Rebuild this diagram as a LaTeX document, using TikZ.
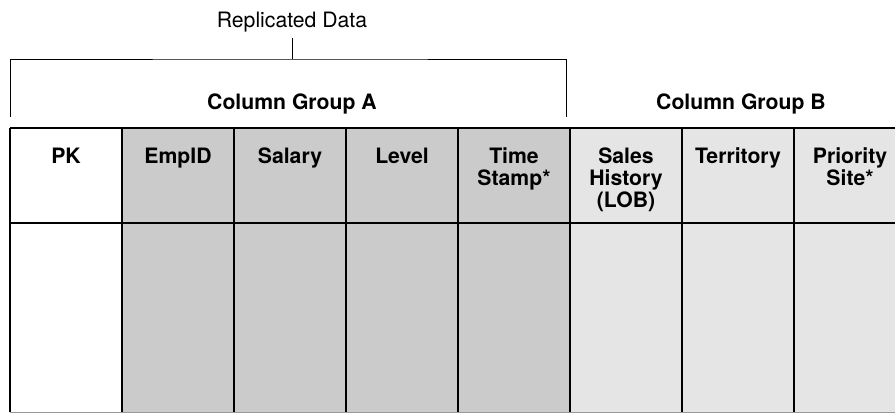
\documentclass[tikz,border=0pt]{standalone}
\usepackage{fontspec}
\setmainfont{TeX Gyre Heros}
\usepackage{tikz}
\usetikzlibrary{positioning}
\definecolor{GroupA}{HTML}{CBCBCB}
\definecolor{GroupB}{HTML}{E5E5E5}
\definecolor{EdgeGray}{HTML}{999999}

\begin{document}
\begin{tikzpicture}[x=1pt,y=-1pt,
    head/.style={minimum width=112pt,minimum height=95pt,inner sep=0pt,outer sep=0pt},
    body/.style={minimum width=112pt,minimum height=189pt,inner sep=0pt,outer sep=0pt},
    title/.style={font=\bfseries\fontsize{21.2}{21.7}\selectfont,align=center,inner sep=0pt},
    group/.style={font=\bfseries\fontsize{21.2}{21.7}\selectfont,anchor=base},
    bracket/.style={line width=1pt},
    rule/.style={line width=2pt}]
    \useasboundingbox (0,0) rectangle (895,413);
    % header row
    \node[head,fill=white] (hPK) at (66,175.5) {};
    \node[head,fill=GroupA,right=0pt of hPK] (hEmp) {};
    \node[head,fill=GroupA,right=0pt of hEmp] (hSal) {};
    \node[head,fill=GroupA,right=0pt of hSal] (hLvl) {};
    \node[head,fill=GroupA,right=0pt of hLvl] (hTime) {};
    \node[head,fill=GroupB,right=0pt of hTime] (hSales) {};
    \node[head,fill=GroupB,right=0pt of hSales] (hTerr) {};
    \node[head,fill=GroupB,right=0pt of hTerr] (hSite) {};
    % body row
    \node[body,fill=white,below=0pt of hPK] (bPK) {};
    \node[body,fill=GroupA,below=0pt of hEmp] (bEmp) {};
    \node[body,fill=GroupA,below=0pt of hSal] (bSal) {};
    \node[body,fill=GroupA,below=0pt of hLvl] (bLvl) {};
    \node[body,fill=GroupA,below=0pt of hTime] (bTime) {};
    \node[body,fill=GroupB,below=0pt of hSales] (bSales) {};
    \node[body,fill=GroupB,below=0pt of hTerr] (bTerr) {};
    \node[body,fill=GroupB,below=0pt of hSite] (bSite) {};
    % column titles
    \node[title,below=20pt of hPK.north] (tPK) {PK};
    \node[title,below=20pt of hEmp.north] (tEmp) {EmpID};
    \node[title,below=20pt of hSal.north] (tSal) {Salary};
    \node[title,below=20pt of hLvl.north] (tLvl) {Level};
    \node[title,below=20pt of hTime.north] (tTime) {Time\\Stamp*};
    \node[title,below=20pt of hSales.north] (tSales) {Sales\\History\\(LOB)};
    \node[title,below=20pt of hTerr.north] (tTerr) {Territory};
    \node[title,below=20pt of hSite.north] (tSite) {Priority\\Site*};
    % grid
    \draw[rule] (hPK.north west) -- (bPK.south west);
    \draw[rule] (hEmp.north west) -- (bEmp.south west);
    \draw[rule] (hSal.north west) -- (bSal.south west);
    \draw[rule] (hLvl.north west) -- (bLvl.south west);
    \draw[rule] (hTime.north west) -- (bTime.south west);
    \draw[rule] (hSales.north west) -- (bSales.south west);
    \draw[rule] (hTerr.north west) -- (bTerr.south west);
    \draw[rule] (hSite.north west) -- (bSite.south west);
    \draw[rule] (hPK.north west) -- (hSite.north east);
    \draw[rule] (hPK.south west) -- (hSite.south east);
    \draw[EdgeGray,line width=1pt] (bPK.south west) -- (bSite.south east);
    % groups
    \node[group] (grpA) at (292,109) {Column Group A};
    \node[group] (grpB) at (741,109) {Column Group B};
    \node[font=\fontsize{21.2}{21.7}\selectfont,anchor=base,inner ysep=6.5pt] (rep) at (292,27) {Replicated Data};
    \coordinate (brL) at (10,117);
    \coordinate (brR) at (566,117);
    \coordinate (brTop) at (292,59);
    \draw[bracket] (brL) |- (brTop) -| (brR);
    \draw[bracket] (rep.south) -- (brTop);
\end{tikzpicture}
\end{document}
